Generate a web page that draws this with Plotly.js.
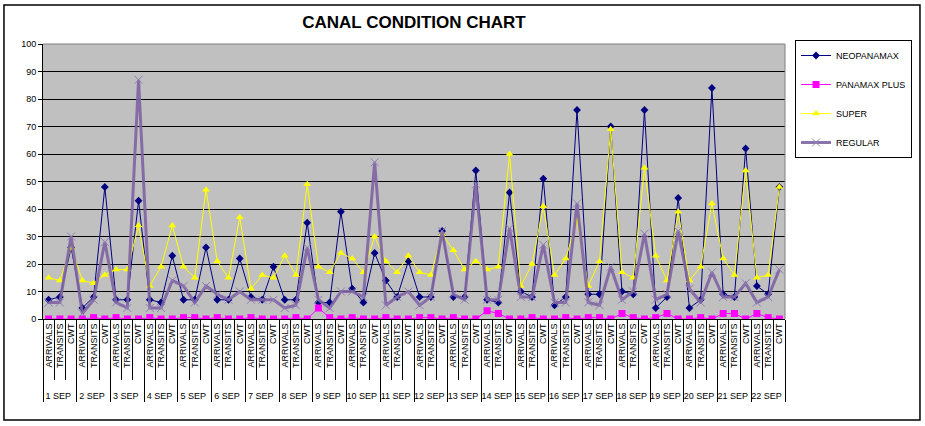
<!DOCTYPE html>
<html>
<head>
<meta charset="utf-8">
<script src="https://cdn.plot.ly/plotly-3.0.1.min.js"></script>
<style>html,body{margin:0;padding:0;background:#fff;}#chart{width:925px;height:426px;}</style>
</head>
<body>
<div id="chart"></div>
<script>
const days = ["1 SEP","2 SEP","3 SEP","4 SEP","5 SEP","6 SEP","7 SEP","8 SEP","9 SEP","10 SEP","11 SEP",
  "12 SEP","13 SEP","14 SEP","15 SEP","16 SEP","17 SEP","18 SEP","19 SEP","20 SEP","21 SEP","22 SEP"];
const cats = ["ARRIVALS","TRANSITS","CWT"];

const neopanamax = [7,8,26, 4,8,48, 7,7,43, 7,6,23, 7,7,26, 7,7,22, 8,7,19, 7,7,35, 6,6,39, 11,6,24, 14,8,21,
  8,8,32, 8,8,54, 7,6,46, 10,8,51, 5,8,76, 9,9,70, 10,9,76, 4,8,44, 4,7,84, 9,8,62, 12,9,48];
const panamaxPlus = [0,0,0, 0,0.5,0, 0.5,0,0, 0.5,0,0, 0.5,0.5,0, 0.5,0,0, 0.5,0,0, 0,0.5,0, 4,0.5,0, 0.5,0,0,
  0.5,0,0, 0.5,0.5,0, 0.5,0,0, 3,2,0, 0,0.5,0, 0,0.5,0, 0.5,0.5,0, 2,0.5,0, 0.5,2,0, 0,0.5,0, 2,2,0, 2,0.5,0];
const superV = [15,14,26, 14,13,16, 18,18,34, 12,19,34, 19,15,47, 21,15,37, 11,16,15, 23,16,49, 19,17,24,
  22,17,30, 21,17,23, 17,16,31, 25,18,21, 18,19,60, 12,20,41, 16,22,36, 12,21,69, 17,15,55, 23,14,39,
  14,19,42, 22,16,54, 15,16,48];
const regular = [6,6,30, 2,7,28, 6,4,87, 4,4,14, 12,6,12, 9,7,10, 7,7,7, 4,5,26, 7,4,10, 10,8,57, 5,8,10,
  5,8,32, 9,7,49, 7,7,33, 8,8,27, 6,6,42, 6,5,19, 7,10,31, 7,9,32, 11,6,17, 8,8,13, 6,8,18];

const yTicks = [0,10,20,30,40,50,60,70,80,90,100];

// leading non-breaking spaces only enlarge the rotated label box (pushes the day row down)
const PAD = "\u00a0\u00a0\u00a0\u00a0\u00a0";
const xDays = [], xCats = [];
days.forEach(d => cats.forEach(c => { xDays.push(d); xCats.push(PAD + c); }));
const X = [xDays, xCats];
const nPts = xDays.length;

const traces = [
  {name:"NEOPANAMAX", x:X, y:neopanamax, type:"scatter", mode:"lines+markers",
   line:{color:"#000080", width:1}, marker:{symbol:"diamond", size:6, color:"#000080"}, legendgroup:"a"},
  {name:"PANAMAX PLUS", x:X, y:panamaxPlus, type:"scatter", mode:"lines+markers",
   line:{color:"#FF00FF", width:1}, marker:{symbol:"square", size:7, color:"#FF00FF"}, legendgroup:"b"},
  {name:"SUPER", x:X, y:superV, type:"scatter", mode:"lines+markers",
   line:{color:"#FFFF00", width:1}, marker:{symbol:"triangle-up", size:7, color:"#FFFF00"}, legendgroup:"c"},
  {name:"REGULAR", x:X, y:regular, type:"scatter", mode:"lines+markers",
   line:{color:"#7F64A4", width:3}, opacity:0.9,
   marker:{symbol:"x-thin-open", size:8, color:"#8C78B4", line:{width:1, color:"#8C78B4"}}, legendgroup:"d"}
];

const F = "Liberation Sans, Arial, sans-serif";
const layout = {
  width:925, height:426,
  margin:{l:43, r:140, t:44, b:107},
  paper_bgcolor:"#FFFFFF", plot_bgcolor:"#C0C0C0",
  font:{family:F, size:9, color:"#000"},
  title:{text:"<b>CANAL CONDITION CHART</b>", font:{family:F, size:17, color:"#000"},
    x:0.5, xref:"paper", y:0.948, yref:"container", yanchor:"middle"},
  showlegend:true,
  legend:{x:1.0135, xanchor:"left", y:1.0145, yanchor:"top", bgcolor:"#FFFFFF",
    bordercolor:"#000", borderwidth:1, font:{family:F, size:9, color:"#000"},
    traceorder:"grouped", tracegroupgap:10, itemwidth:30},
  xaxis:{type:"multicategory", range:[-0.5, nPts-0.5], autorange:false,
    tickmode:"linear", dtick:1, tick0:0,
    showgrid:false, zeroline:false,
    showline:true, linecolor:"#000", linewidth:1,
    ticks:"outside", ticklen:60, tickcolor:"#000", tickwidth:1,
    tickangle:-90, tickfont:{family:F, size:9, color:"#000"},
    showdividers:true, dividercolor:"#000", dividerwidth:1},
  yaxis:{range:[0,100], tickvals:yTicks, ticktext:yTicks.map(String),
    showgrid:true, gridcolor:"#000", gridwidth:1, zeroline:false,
    showline:true, linecolor:"#000", linewidth:1,
    ticks:"outside", ticklen:4, tickcolor:"#000",
    tickfont:{family:F, size:9, color:"#000"}, fixedrange:true},
  shapes:[
    {type:"line", xref:"paper", yref:"paper", x0:0, x1:1, y0:1, y1:1, line:{color:"#808080", width:1}},
    {type:"line", xref:"paper", yref:"paper", x0:1, x1:1, y0:0, y1:1, line:{color:"#808080", width:1}},
    {type:"rect", xref:"paper", yref:"paper", x0:-0.0526, x1:1.1819, y0:-0.367, y1:1.1418,
      line:{color:"#000", width:1.5}, layer:"below"}
  ]
};

Plotly.newPlot("chart", traces, layout, {displayModeBar:false, staticPlot:true});
</script>
</body>
</html>
